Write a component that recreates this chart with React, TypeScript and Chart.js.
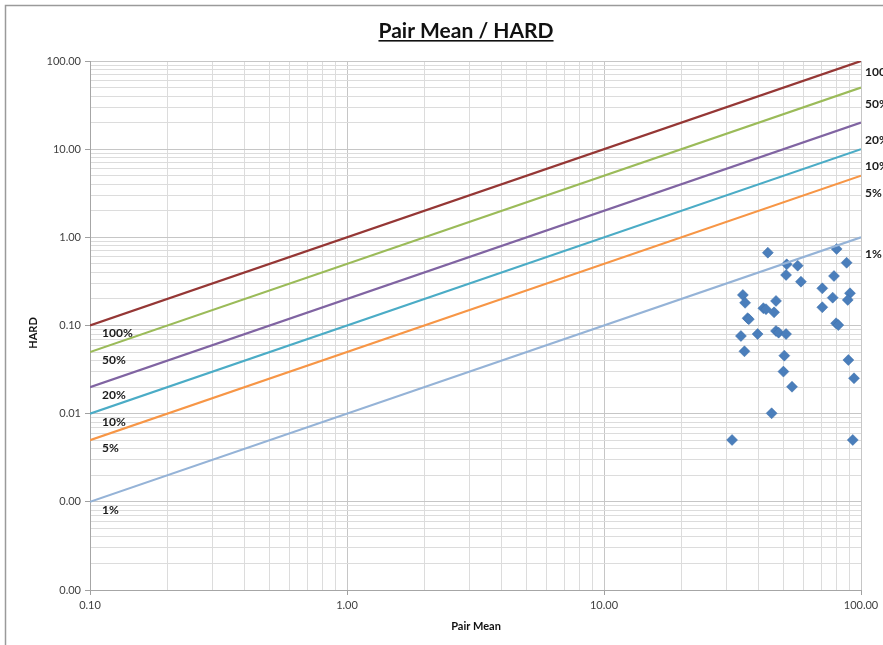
import React, { useEffect, useRef } from "react";
import { Chart, registerables } from "chart.js";

Chart.register(...registerables);

const lineLabels = ["100%", "50%", "20%", "10%", "5%", "1%"];
const lineRatios = [1, 0.5, 0.2, 0.1, 0.05, 0.01];
const lineColors = ["#953735", "#9BBB59", "#8064A2", "#4BACC6", "#F79646", "#95B3D7"];
const xRange = [0.1, 100];
const yRange = [0.0001, 100];

const pairMean = [
  43.4, 80.4, 87.9, 51.4, 56.7, 51.1, 58.4, 78.5, 70.7, 34.7, 35.4, 90.6, 77.6,
  88.8, 46.7, 41.7, 42.7, 45.9, 70.7, 36.2, 36.6, 80.0, 81.6, 34.1, 39.6, 46.7,
  47.8, 51.1, 35.2, 50.3, 89.3, 49.9, 93.9, 53.9, 44.9, 31.5, 92.9,
];
const hard = [
  0.67, 0.738, 0.515, 0.494, 0.477, 0.374, 0.314, 0.364, 0.264, 0.222, 0.181,
  0.232, 0.207, 0.195, 0.19, 0.157, 0.153, 0.141, 0.161, 0.121, 0.118, 0.106,
  0.101, 0.076, 0.08, 0.0867, 0.083, 0.08, 0.051, 0.0455, 0.0406, 0.03, 0.0252,
  0.0202, 0.0101, 0.00503, 0.00503,
];

const TITLE = "Pair Mean / HARD";
const X_TITLE = "Pair Mean";
const Y_TITLE = "HARD";

function logTicks(min: number, max: number) {
  const out: { value: number }[] = [];
  const lo = Math.round(Math.log10(min));
  const hi = Math.round(Math.log10(max));
  for (let e = lo; e <= hi; e++) {
    for (let m = 1; m <= 9; m++) {
      const v = m * Math.pow(10, e);
      if (v > max * 1.0001) break;
      out.push({ value: v });
    }
  }
  return out;
}

function isDecade(v: number) {
  const l = Math.log10(v);
  return Math.abs(l - Math.round(l)) < 1e-6;
}

const decorPlugin = {
  id: "decor",
  beforeDraw(chart: any) {
    const ctx = chart.ctx;
    ctx.save();
    ctx.fillStyle = "#ffffff";
    ctx.fillRect(0, 0, chart.width, chart.height);
    ctx.strokeStyle = "#9a9a9a";
    ctx.lineWidth = 1.5;
    ctx.beginPath();
    ctx.moveTo(5.5, chart.height);
    ctx.lineTo(5.5, 5.5);
    ctx.lineTo(chart.width, 5.5);
    ctx.stroke();
    ctx.restore();
  },
  afterDraw(chart: any) {
    const ctx = chart.ctx;
    const xs = chart.scales.x;
    const ys = chart.scales.y;
    ctx.save();
    // title
    ctx.font = "bold 21px Lato, 'Open Sans', sans-serif";
    ctx.fillStyle = "#111111";
    ctx.textAlign = "center";
    ctx.textBaseline = "alphabetic";
    const cx = 466;
    ctx.fillText(TITLE, cx, 38);
    const w = ctx.measureText(TITLE).width;
    ctx.fillRect(cx - w / 2, 40, w, 1.6);
    // axis titles
    ctx.font = "bold 11px Lato, 'Open Sans', sans-serif";
    ctx.fillStyle = "#111111";
    ctx.textBaseline = "middle";
    ctx.fillText(X_TITLE, 476, 626);
    ctx.save();
    ctx.translate(33, 333);
    ctx.rotate(-Math.PI / 2);
    ctx.fillText(Y_TITLE, 0, 0);
    ctx.restore();
    // line labels
    ctx.font = "bold 12px Lato, 'Open Sans', sans-serif";
    ctx.fillStyle = "#1a1a1a";
    ctx.textAlign = "left";
    lineLabels.forEach((lab, i) => {
      const yl = ys.getPixelForValue(lineRatios[i] * xRange[0]);
      ctx.fillText(lab, xs.getPixelForValue(xRange[0]) + 12, yl + 8);
      const yr = ys.getPixelForValue(lineRatios[i] * xRange[1]);
      ctx.fillText(lab, xs.getPixelForValue(xRange[1]) + 4, yr + (i === 0 ? 11 : 17));
    });
    ctx.restore();
  },
};

export default function App() {
  const ref = useRef<HTMLCanvasElement>(null);
  useEffect(() => {
    document.body.style.margin = "0";
    const datasets: any[] = lineRatios.map((r, i) => ({
      type: "line",
      label: lineLabels[i],
      data: xRange.map((x) => ({ x, y: r * x })),
      borderColor: lineColors[i],
      backgroundColor: lineColors[i],
      borderWidth: 2.2,
      pointRadius: 0,
      fill: false,
    }));
    datasets.push({
      type: "scatter",
      label: "data",
      data: pairMean.map((x, i) => ({ x, y: hard[i] })),
      pointStyle: "rectRot",
      pointRadius: 5.5,
      backgroundColor: "#4A7EBB",
      borderColor: "#3C6EA8",
      borderWidth: 0.5,
    });
    const tickFont = { family: "Lato, 'Open Sans', sans-serif", size: 11 };
    const chart = new Chart(ref.current as HTMLCanvasElement, {
      type: "scatter",
      data: { datasets },
      options: {
        animation: false,
        responsive: false,
        layout: { padding: { left: 0, top: 61, right: 22, bottom: 0 } },
        plugins: { legend: { display: false }, tooltip: { enabled: false } },
        scales: {
          x: {
            type: "logarithmic",
            min: xRange[0],
            max: xRange[1],
            afterBuildTicks: (s: any) => {
              s.ticks = logTicks(xRange[0], xRange[1]);
            },
            afterFit: (s: any) => {
              s.height = 55;
            },
            ticks: {
              autoSkip: false,
              maxRotation: 0,
              padding: 4,
              color: "#404040",
              font: tickFont,
              callback: (v: any) => (isDecade(Number(v)) ? Number(v).toFixed(2) : ""),
            },
            grid: {
              color: (c: any) => (c.tick && isDecade(c.tick.value) ? "#c6c6c6" : "#dcdcdc"),
              tickLength: 5,
              tickColor: (c: any) => (c.tick && isDecade(c.tick.value) ? "#a0a0a0" : "rgba(0,0,0,0)"),
              lineWidth: 1,
            },
            border: { color: "#a6a6a6" },
          },
          y: {
            type: "logarithmic",
            min: yRange[0],
            max: yRange[1],
            afterBuildTicks: (s: any) => {
              s.ticks = logTicks(yRange[0], yRange[1]);
            },
            afterFit: (s: any) => {
              s.width = 90;
            },
            ticks: {
              autoSkip: false,
              padding: 4,
              color: "#404040",
              font: tickFont,
              callback: (v: any) => (isDecade(Number(v)) ? Number(v).toFixed(2) : ""),
            },
            grid: {
              color: (c: any) => (c.tick && isDecade(c.tick.value) ? "#c6c6c6" : "#dcdcdc"),
              tickLength: 5,
              tickColor: (c: any) => (c.tick && isDecade(c.tick.value) ? "#a0a0a0" : "rgba(0,0,0,0)"),
              lineWidth: 1,
            },
            border: { color: "#a6a6a6" },
          },
        },
      } as any,
      plugins: [decorPlugin],
    });
    return () => chart.destroy();
  }, []);
  return <canvas ref={ref} width={883} height={645} style={{ display: "block" }} />;
}
